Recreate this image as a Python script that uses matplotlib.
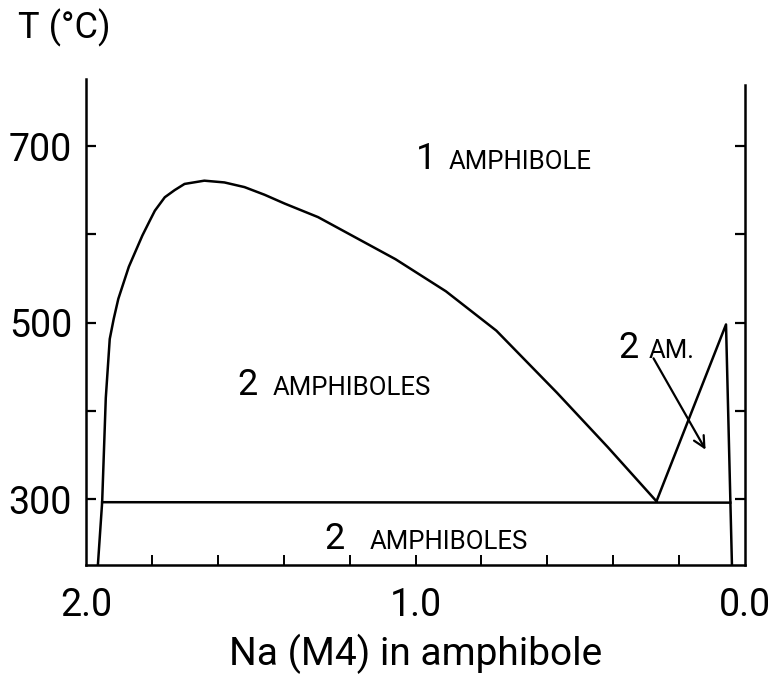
import matplotlib
matplotlib.use("Agg")
import matplotlib.pyplot as plt

FONT = ['Roboto', 'DejaVu Sans']
plt.rcParams['font.family'] = FONT

# solvus (large two-amphibole field)
solvus_x = [1.964, 1.951, 1.940, 1.928, 1.916, 1.902, 1.870, 1.829, 1.806, 1.791,
            1.761, 1.731, 1.701, 1.641, 1.580, 1.519, 1.458, 1.397, 1.296, 1.061,
            0.908, 0.755, 0.571, 0.417, 0.269]
solvus_y = [225, 296.6, 414.6, 481.5, 504.2, 527, 563.5, 598.8, 616, 627,
            642.2, 650.3, 657.3, 661, 659, 653.7, 645, 635, 619.7, 572,
            535.6, 491, 420.6, 359, 297.5]

# small two-amphibole field near Na = 0
small_x = [0.269, 0.058, 0.040]
small_y = [297.5, 498, 225]

# horizontal boundary
horiz_x = [1.951, 0.045]
horiz_y = [296.5, 296]

# arrow
arrow_start = (0.278, 459.6)
arrow_end = (0.120, 356)

y_ticks = [300, 400, 500, 600, 700]
y_labels = ['300', '', '500', '', '700']
x_ticks = [2.0, 1.8, 1.6, 1.4, 1.2, 1.0, 0.8, 0.6, 0.4, 0.2, 0.0]
x_labels = ['2.0', '', '', '', '', '1.0', '', '', '', '', '0.0']

fig = plt.figure(figsize=(7.7, 6.86), dpi=100)
ax = fig.add_axes([0.1117, 0.176, 0.856, 0.7085])
ax.set_xlim(2.0, 0.0)
ax.set_ylim(225, 776)

lw = 1.8
ax.plot(solvus_x, solvus_y, color='black', lw=lw, solid_joinstyle='round')
ax.plot(small_x, small_y, color='black', lw=lw)
ax.plot(horiz_x, horiz_y, color='black', lw=lw)
ax.annotate('', xy=arrow_end, xytext=arrow_start,
            arrowprops=dict(arrowstyle='->', color='black', lw=1.6,
                            mutation_scale=20, shrinkA=0, shrinkB=0))

ax.spines['top'].set_visible(False)
for s in ['left', 'right', 'bottom']:
    ax.spines[s].set_linewidth(lw)
ax.spines['right'].set_bounds(225, 770)
ax.spines['left'].set_bounds(225, 776)

ax.set_yticks(y_ticks)
ax.set_yticklabels(y_labels)
ax.set_xticks(x_ticks)
ax.set_xticklabels(x_labels)
ax.tick_params(axis='y', direction='in', length=7, width=1.6, right=True,
               labelsize=27, pad=10)
ax.tick_params(axis='x', direction='in', length=7, width=1.4,
               labelsize=27, pad=16)
for t in ax.xaxis.get_major_ticks():
    if t.get_loc() in (2.0, 0.0):
        t.tick1line.set_visible(False)

ax.set_xlabel('Na (M4) in amphibole', fontsize=28, labelpad=7)
fig.text(18 / 770, 1 - 28 / 686, 'T (°C)', fontsize=26, ha='left', va='center')

big, small = 26, 18.5
ax.text(1.0, 674.6, '1', fontsize=big, ha='left', va='baseline')
ax.text(0.899, 674.6, 'AMPHIBOLE', fontsize=small, ha='left', va='baseline')
ax.text(1.541, 418, '2', fontsize=big, ha='left', va='baseline')
ax.text(1.435, 418, 'AMPHIBOLES', fontsize=small, ha='left', va='baseline')
ax.text(0.385, 459.5, '2', fontsize=big, ha='left', va='baseline')
ax.text(0.294, 459.5, 'AM.', fontsize=small, ha='left', va='baseline')
ax.text(1.276, 243.8, '2', fontsize=big, ha='left', va='baseline')
ax.text(1.139, 243.8, 'AMPHIBOLES', fontsize=small, ha='left', va='baseline')

fig.savefig('out.png', dpi=100)
